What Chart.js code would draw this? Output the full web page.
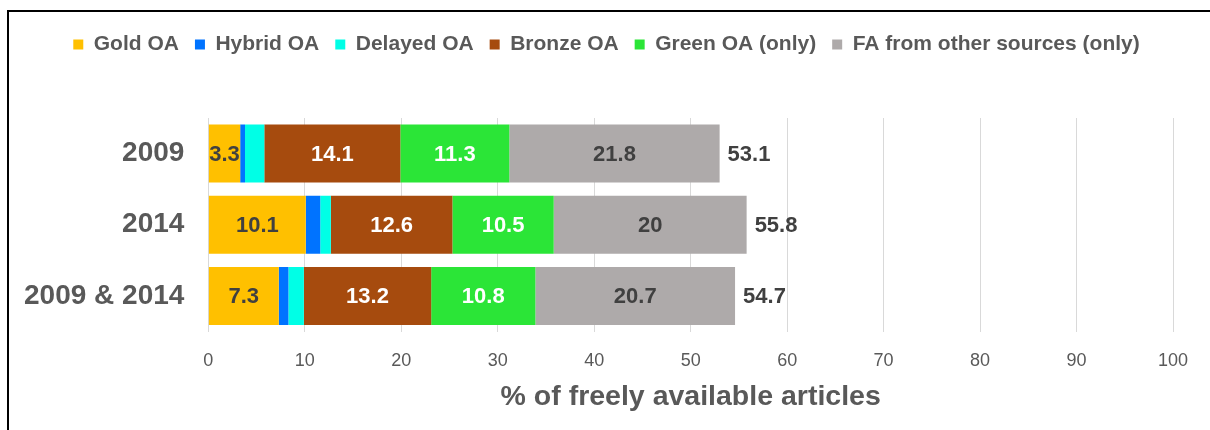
<!DOCTYPE html>
<html>
<head>
<meta charset="utf-8">
<script src="https://cdn.jsdelivr.net/npm/chart.js@4/dist/chart.umd.min.js"></script>
<style>
  body { margin: 0; background: #fff; }
  #wrap { position: relative; width: 1210px; height: 430px; overflow: hidden; }
  #frame { position: absolute; left: 7px; top: 10px; right: -10px; bottom: -10px;
           border-left: 2px solid #000; border-top: 2px solid #000; pointer-events: none; }
</style>
</head>
<body>
<div id="wrap">
  <canvas id="oaChart" width="1210" height="430"></canvas>
  <div id="frame"></div>
</div>
<script>
// data
const categories = ['2009', '2014', '2009 & 2014'];
const goldOA = [3.3, 10.1, 7.3];
const hybridOA = [0.5, 1.5, 1.0];
const delayedOA = [2.0, 1.1, 1.6];
const bronzeOA = [14.1, 12.6, 13.2];
const greenOA = [11.3, 10.5, 10.8];
const otherFA = [21.8, 20, 20.7];
const totals = [53.1, 55.8, 54.7];

const fontFamily = '"Liberation Sans", Arial, sans-serif';

// extra space under the legend, and nudge it a bit to the right
const legendSpacer = {
  id: 'legendSpacer',
  beforeInit(chart) {
    const fit = chart.legend.fit;
    chart.legend.fit = function () {
      fit.bind(chart.legend)();
      this.height += 53;
    };
  },
  afterLayout(chart) {
    chart.legend.left += 20;
    chart.legend.right += 20;
  }
};

// segment labels + totals at the end of each bar
const barLabels = {
  id: 'barLabels',
  afterDatasetsDraw(chart) {
    const ctx = chart.ctx;
    ctx.save();
    ctx.font = 'bold 22px ' + fontFamily;
    ctx.textBaseline = 'middle';
    chart.data.datasets.forEach((ds, i) => {
      if (!ds.labelColor) return;
      const meta = chart.getDatasetMeta(i);
      meta.data.forEach((bar, j) => {
        const left = Math.min(bar.x, bar.base);
        const right = Math.max(bar.x, bar.base);
        ctx.fillStyle = ds.labelColor;
        ctx.textAlign = 'center';
        ctx.fillText(String(ds.data[j]), (left + right) / 2, bar.y + 1);
      });
    });
    const last = chart.getDatasetMeta(chart.data.datasets.length - 1);
    last.data.forEach((bar, j) => {
      ctx.fillStyle = '#404040';
      ctx.textAlign = 'left';
      ctx.fillText(String(totals[j]), Math.max(bar.x, bar.base) + 8, bar.y + 1);
    });
    ctx.restore();
  }
};

const ctxOA = document.getElementById('oaChart').getContext('2d');
new Chart(ctxOA, {
  type: 'bar',
  data: {
    labels: categories,
    datasets: [
      { label: 'Gold OA', data: goldOA, backgroundColor: '#FFC000', labelColor: '#404040' },
      { label: 'Hybrid OA', data: hybridOA, backgroundColor: '#0073FF' },
      { label: 'Delayed OA', data: delayedOA, backgroundColor: '#00FFE6' },
      { label: 'Bronze OA', data: bronzeOA, backgroundColor: '#A64B0E', labelColor: '#FFFFFF' },
      { label: 'Green OA (only)', data: greenOA, backgroundColor: '#2BE537', labelColor: '#FFFFFF' },
      { label: 'FA from other sources (only)', data: otherFA, backgroundColor: '#AEAAAA', labelColor: '#404040' }
    ]
  },
  options: {
    indexAxis: 'y',
    responsive: false,
    animation: false,
    datasets: { bar: { categoryPercentage: 1, barPercentage: 0.815, borderWidth: 0 } },
    layout: { padding: { top: 18, left: 0, right: 37, bottom: 19 } },
    plugins: {
      legend: {
        position: 'top',
        labels: {
          boxWidth: 10, boxHeight: 10, padding: 16,
          color: '#595959',
          font: { family: fontFamily, size: 21, weight: 'bold' }
        }
      },
      tooltip: { enabled: false },
      title: { display: false }
    },
    scales: {
      x: {
        stacked: true,
        min: 0, max: 100,
        ticks: { stepSize: 10, padding: 21, color: '#595959', font: { family: fontFamily, size: 18, lineHeight: 1 } },
        grid: { color: '#D9D9D9', drawTicks: false },
        border: { display: false },
        title: {
          display: true,
          text: '% of freely available articles',
          color: '#595959',
          font: { family: fontFamily, size: 28.5, weight: 'bold', lineHeight: 1 },
          padding: { top: -9, bottom: 0 }
        }
      },
      y: {
        stacked: true,
        ticks: { padding: 24, color: '#595959', font: { family: fontFamily, size: 28, weight: 'bold' } },
        grid: { display: false, drawTicks: false },
        border: { display: false }
      }
    }
  },
  plugins: [legendSpacer, barLabels]
});
</script>
</body>
</html>
